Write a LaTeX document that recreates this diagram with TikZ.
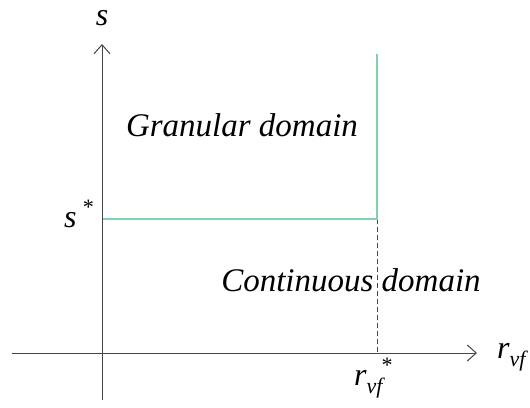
\documentclass[tikz,border=0pt]{standalone}
\usepackage{fontspec}
\setmainfont{LiberationSerif}[Extension=.ttf, UprightFont=*-Regular, ItalicFont=*-Italic, BoldFont=*-Bold, BoldItalicFont=*-BoldItalic]
\usetikzlibrary{arrows.meta}
\definecolor{axisgray}{RGB}{70,70,70}
\definecolor{bound}{RGB}{125,210,170}
\tikzset{
  lbl/.style={font=\fontsize{32}{36}\selectfont\itshape, inner sep=0pt},
  dom/.style={font=\fontsize{33}{38}\selectfont\itshape, inner sep=0pt},
  axis/.style={draw=axisgray, line width=1pt, -{Straight Barb[length=9pt,width=16pt]}},
  boundary/.style={draw=bound, line width=1.6pt},
  guide/.style={draw=axisgray, line width=0.9pt, dash pattern=on 5pt off 3pt}
}
\newcommand{\smallsub}[1]{\raisebox{-0.28em}{\fontsize{22}{24}\selectfont #1}}
\newcommand{\smallsup}[1]{\raisebox{0.4em}{\fontsize{22}{24}\selectfont #1}}
\begin{document}
\begin{tikzpicture}[x=1pt,y=-1pt]
\useasboundingbox (0,0) rectangle (530,407);
\coordinate (xs) at (12,353);
\coordinate (xe) at (477,353);
\coordinate (ys) at (102,400);
\coordinate (ye) at (102,44);
\coordinate (c) at (377,219);
\coordinate (cl) at (103,219);
\coordinate (ct) at (377,54);
\coordinate (cb) at (377,353);
\draw[axis] (xs) -- (xe);
\draw[axis] (ys) -- (ye);
\draw[guide] (c) -- (cb);
\draw[boundary] (cl) -- (c) -- (ct);
\node[lbl, anchor=base] (s) at (102,25) {s};
\node[lbl, anchor=base west] (sstar) at (64,227) {s\,\smallsup{*}};
\node[lbl, anchor=base west] (rvf) at (497,358) {r\smallsub{vf}};
\node[lbl, anchor=base west] (rstar) at (354,385) {r\smallsub{vf}\hspace{-2pt}\smallsup{*}};
\node[dom] (gran) at (242,125) {Granular domain};
\node[dom] (cont) at (351,280) {Continuous domain};
\end{tikzpicture}
\end{document}
